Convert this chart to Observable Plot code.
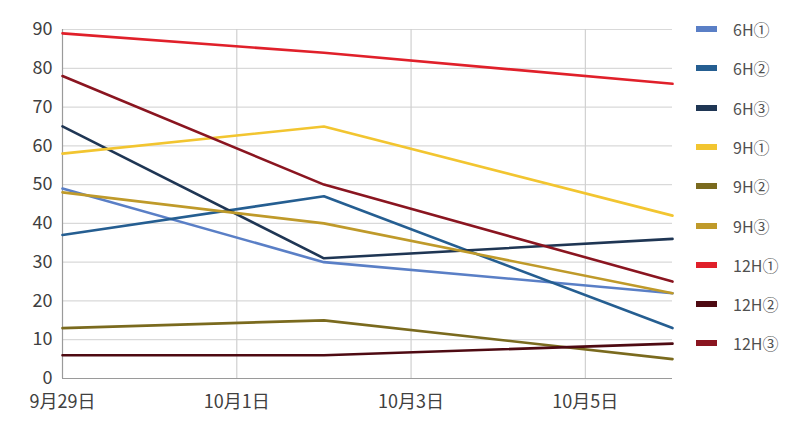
<!DOCTYPE html>
<html>
<head>
<meta charset="utf-8">
<script src="https://cdn.jsdelivr.net/npm/d3@7"></script>
<script src="https://cdn.jsdelivr.net/npm/@observablehq/plot@0.6"></script>
<style>
  body { margin: 0; background: #fff; font-family: "Noto Sans CJK JP", "Noto Sans", sans-serif; }
  #wrap { position: relative; width: 785px; height: 428px; overflow: hidden; }
  #legend { position: absolute; left: 696px; top: 0; }
  .item { position: absolute; left: 0; height: 22px; display: flex; align-items: center; white-space: nowrap; font-size: 16px; color: #505050; }
  .sw { width: 21px; height: 6px; margin-right: 16px; }
</style>
</head>
<body>
<div id="wrap"><div id="legend"></div></div>
<script>
const dates = ["2023-09-29", "2023-10-02", "2023-10-06"];
const seriesNames = ["6H①", "6H②", "6H③", "9H①", "9H②", "9H③", "12H①", "12H②", "12H③"];
const seriesColors = ["#5A7FC6", "#255E91", "#1F3654", "#F2C530", "#7A6A1E", "#BF9A2A", "#E0202A", "#4E0A12", "#8A1520"];
const v6H1 = [49, 30, 22];
const v6H2 = [37, 47, 13];
const v6H3 = [65, 31, 36];
const v9H1 = [58, 65, 42];
const v9H2 = [13, 15, 5];
const v9H3 = [48, 40, 22];
const v12H1 = [89, 84, 76];
const v12H2 = [6, 6, 9];
const v12H3 = [78, 50, 25];
const yTicks = [0, 10, 20, 30, 40, 50, 60, 70, 80, 90];
const xTicks = ["2023-09-29", "2023-10-01", "2023-10-03", "2023-10-05"];

const allValues = [v6H1, v6H2, v6H3, v9H1, v9H2, v9H3, v12H1, v12H2, v12H3];
const data = [];
seriesNames.forEach((s, i) => {
  dates.forEach((d, j) => data.push({series: s, date: new Date(d + "T00:00:00Z"), value: allValues[i][j]}));
});
const xTickDates = xTicks.map(d => new Date(d + "T00:00:00Z"));
const fmt = d => `${d.getUTCMonth() + 1}月${d.getUTCDate()}日`;

const chart = Plot.plot({
  width: 785,
  height: 428,
  marginLeft: 62,
  marginRight: 113,
  marginTop: 29,
  marginBottom: 50,
  style: {fontFamily: "'Noto Sans CJK JP', 'Noto Sans', sans-serif", fontSize: "18px", color: "#404040", background: "#fff"},
  x: {type: "utc", domain: [new Date("2023-09-29T00:00:00Z"), new Date("2023-10-06T00:00:00Z")]},
  y: {domain: [0, 90]},
  color: {domain: seriesNames, range: seriesColors},
  marks: [
    Plot.ruleY(yTicks.filter(t => t > 0), {stroke: "#d9d9d9", strokeWidth: 1.2}),
    Plot.ruleX(xTickDates.slice(1), {stroke: "#d0d0d0", strokeWidth: 1.2}),
    Plot.ruleX([xTickDates[0]], {stroke: "#9a9a9a", strokeWidth: 1.2}),
    Plot.ruleY([0], {stroke: "#9a9a9a", strokeWidth: 1.2}),
    Plot.axisY({ticks: yTicks, tickSize: 0, tickPadding: 10, label: null}),
    Plot.axisX({ticks: xTickDates, tickSize: 0, tickPadding: 17, label: null, tickFormat: fmt}),
    Plot.line(data, {x: "date", y: "value", z: "series", stroke: "series", strokeWidth: 2.6})
  ]
});
document.getElementById("wrap").prepend(chart);
chart.style.position = "absolute";
chart.style.left = "0";
chart.style.top = "0";

const legend = document.getElementById("legend");
seriesNames.forEach((s, i) => {
  const item = document.createElement("div");
  item.className = "item";
  item.style.top = (18 + i * 39.3) + "px";
  const sw = document.createElement("div");
  sw.className = "sw";
  sw.style.background = seriesColors[i];
  const t = document.createElement("span");
  t.textContent = s;
  item.appendChild(sw);
  item.appendChild(t);
  legend.appendChild(item);
});
</script>
</body>
</html>
